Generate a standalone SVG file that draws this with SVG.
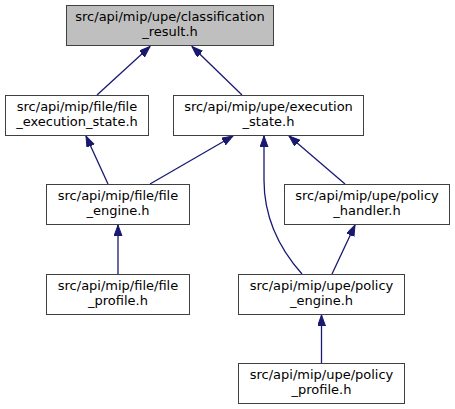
<svg xmlns="http://www.w3.org/2000/svg" width="455" height="409" viewBox="0 0 455 409">
<style>
.n rect{fill:#fff;stroke:#404040;stroke-width:1}
.n.cur rect{fill:#bfbfbf}
.n text{font-family:"DejaVu Sans",sans-serif;font-size:13px;text-anchor:middle;fill:#000}
.e path{fill:none;stroke:#191970;stroke-width:1.3;marker-end:url(#ah)}
</style>
<defs>
<marker id="ah" markerUnits="userSpaceOnUse" markerWidth="12" markerHeight="10" refX="11" refY="4" orient="auto">
<path d="M0,0 L11,4 L0,8 z" fill="#191970" stroke="#191970" stroke-width="1"/>
</marker>
</defs>
<rect width="455" height="409" fill="#fff"/>
<g id="edges" class="e">
<path d="M97,95 L150,46.5"/>
<path d="M242,95 L192,46.5"/>
<path d="M108,184 L86,136"/>
<path d="M150,184 L233,136"/>
<path d="M302,274 C277,246 264,215 264,180 L264,136"/>
<path d="M345,184 L289,136"/>
<path d="M332,274 L355,225"/>
<path d="M118,274 L118,225"/>
<path d="M321.5,363 L321.5,315"/>
</g>
<g id="classification_result" class="n cur"><rect x="66.5" y="5.5" width="207" height="40"/><text x="170" y="21">src/api/mip/upe/classification</text><text x="170" y="36">_result.h</text></g>
<g id="file_execution_state" class="n"><rect x="5.5" y="95.5" width="143" height="40"/><text x="77" y="111">src/api/mip/file/file</text><text x="77" y="126">_execution_state.h</text></g>
<g id="execution_state" class="n"><rect x="173.5" y="95.5" width="190" height="40"/><text x="268.5" y="111">src/api/mip/upe/execution</text><text x="268.5" y="126">_state.h</text></g>
<g id="file_engine" class="n"><rect x="46.5" y="184.5" width="143" height="40"/><text x="118" y="200">src/api/mip/file/file</text><text x="118" y="215">_engine.h</text></g>
<g id="policy_handler" class="n"><rect x="284.5" y="184.5" width="165" height="40"/><text x="367" y="200">src/api/mip/upe/policy</text><text x="367" y="215">_handler.h</text></g>
<g id="file_profile" class="n"><rect x="46.5" y="274.5" width="143" height="40"/><text x="118" y="290">src/api/mip/file/file</text><text x="118" y="305">_profile.h</text></g>
<g id="policy_engine" class="n"><rect x="238.5" y="274.5" width="166" height="40"/><text x="321.5" y="290">src/api/mip/upe/policy</text><text x="321.5" y="305">_engine.h</text></g>
<g id="policy_profile" class="n"><rect x="238.5" y="363.5" width="166" height="40"/><text x="321.5" y="379">src/api/mip/upe/policy</text><text x="321.5" y="394">_profile.h</text></g>
</svg>
